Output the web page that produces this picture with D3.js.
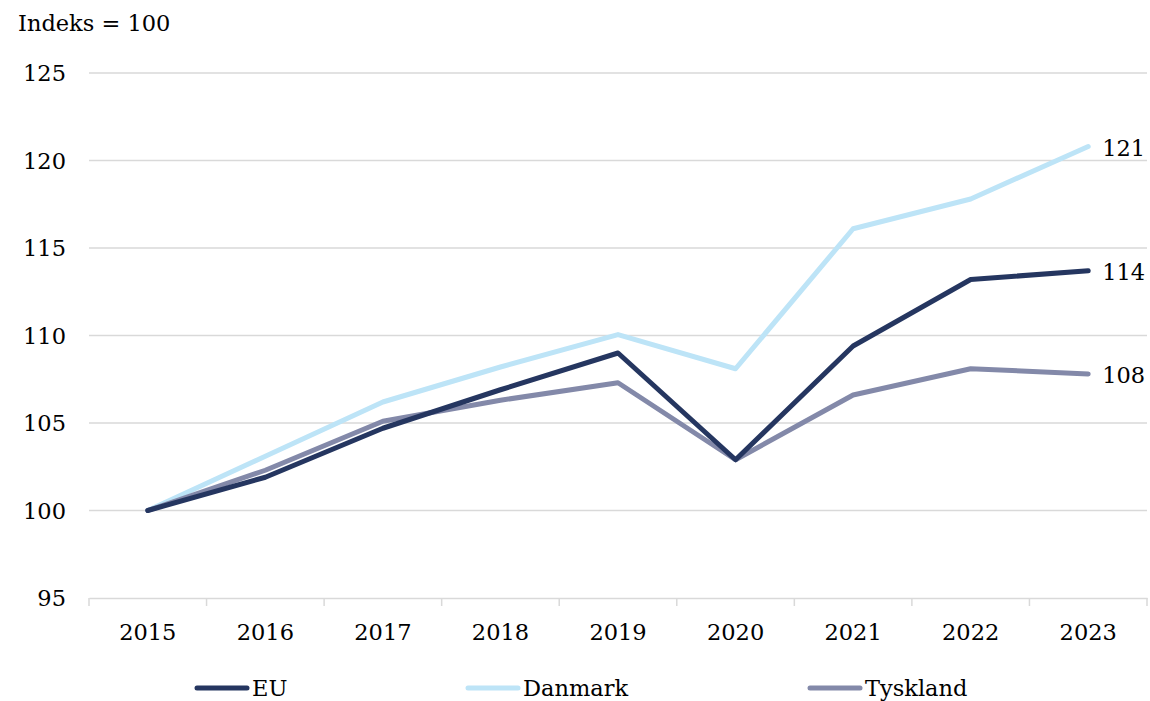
<!DOCTYPE html>
<html>
<head>
<meta charset="utf-8">
<script src="https://cdn.jsdelivr.net/npm/d3@7"></script>
<style>
  body { margin: 0; background: #fff; }
  svg text { font-family: "DejaVu Serif", "Liberation Serif", serif; fill: #000; }
</style>
</head>
<body>
<svg id="chart" width="1150" height="701"></svg>
<script>
var years = ["2015", "2016", "2017", "2018", "2019", "2020", "2021", "2022", "2023"];
var eu = [100, 101.9, 104.7, 106.9, 109.0, 102.9, 109.4, 113.2, 113.7];
var danmark = [100, 103.1, 106.2, 108.2, 110.05, 108.1, 116.1, 117.8, 120.8];
var tyskland = [100, 102.3, 105.1, 106.3, 107.3, 102.9, 106.6, 108.1, 107.8];
var yTicks = [95, 100, 105, 110, 115, 120, 125];
var seriesNames = ["EU", "Danmark", "Tyskland"];
var endLabels = ["114", "121", "108"];

var colors = {EU: "#253660", Danmark: "#bde4f7", Tyskland: "#8389a9"};
var fs = "22.5px";

var svg = d3.select("#chart");

var x = d3.scaleBand().domain(years).range([89, 1147]);
var y = d3.scaleLinear().domain([95, 125]).range([598, 73]);

// gridlines
svg.append("g")
    .selectAll("line")
    .data(yTicks.slice(1))
    .join("line")
    .attr("x1", 89).attr("x2", 1147)
    .attr("y1", d => y(d)).attr("y2", d => y(d))
    .attr("stroke", "#d9d9d9").attr("stroke-width", 1.5);

// x axis
var xAxis = svg.append("g").attr("transform", "translate(0," + y(95) + ")")
    .call(d3.axisBottom(x).tickSizeOuter(0).tickSize(0).tickPadding(26));
xAxis.select(".domain").attr("stroke", "#d9d9d9").attr("stroke-width", 1.5);
xAxis.selectAll("text").style("font-size", fs);
// tick marks between categories
svg.append("g")
    .selectAll("line")
    .data(years.concat(["end"]))
    .join("line")
    .attr("x1", (d, i) => 89 + i * x.step()).attr("x2", (d, i) => 89 + i * x.step())
    .attr("y1", y(95)).attr("y2", y(95) + 8)
    .attr("stroke", "#d9d9d9").attr("stroke-width", 1.5);

// y axis labels
svg.append("g")
    .selectAll("text")
    .data(yTicks)
    .join("text")
    .attr("x", 66)
    .attr("y", d => y(d) + 8)
    .attr("text-anchor", "end")
    .style("font-size", fs)
    .text(d => d);

svg.append("text")
    .attr("x", 18).attr("y", 31)
    .style("font-size", fs)
    .text("Indeks = 100");

var line = d3.line()
    .x((d, i) => x(years[i]) + x.bandwidth() / 2)
    .y(d => y(d));

var data = [eu, danmark, tyskland];
// draw order: Danmark, Tyskland, EU on top
[1, 2, 0].forEach(function (k) {
    svg.append("path")
        .attr("d", line(data[k]))
        .attr("fill", "none")
        .attr("stroke", colors[seriesNames[k]])
        .attr("stroke-width", 5)
        .attr("stroke-linejoin", "round")
        .attr("stroke-linecap", "round");
});

// end labels
data.forEach(function (s, k) {
    var v = s[s.length - 1];
    svg.append("text")
        .attr("x", x(years[8]) + x.bandwidth() / 2 + 14)
        .attr("y", y(v) + 9)
        .style("font-size", fs)
        .text(endLabels[k]);
});

// legend
var legendX = [195, 466, 808];
seriesNames.forEach(function (n, k) {
    var g = svg.append("g").attr("transform", "translate(" + legendX[k] + ",688)");
    g.append("line")
        .attr("x1", 2).attr("x2", 52)
        .attr("stroke", colors[n]).attr("stroke-width", 5)
        .attr("stroke-linecap", "round");
    g.append("text")
        .attr("x", 57).attr("y", 8)
        .style("font-size", fs)
        .text(n);
});
</script>
</body>
</html>
